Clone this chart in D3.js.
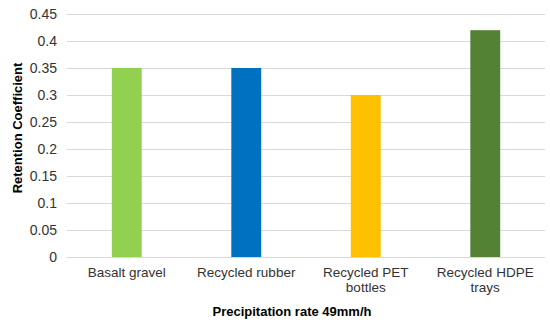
<!DOCTYPE html>
<html>
<head>
<meta charset="utf-8">
<script src="https://cdn.jsdelivr.net/npm/d3@7"></script>
<style>
  body { margin: 0; background: #fff; }
  svg text { font-family: "Liberation Sans", Arial, sans-serif; fill: #000; }
</style>
</head>
<body>
<div id="chart"></div>
<script>
const categories = [['Basalt gravel'], ['Recycled rubber'], ['Recycled PET', 'bottles'], ['Recycled HDPE', 'trays']]
const values = [0.35, 0.35, 0.30, 0.42]
const colors = ['#92D050', '#0070C0', '#FFC000', '#548235']
const yTicks = [0, 0.05, 0.1, 0.15, 0.2, 0.25, 0.3, 0.35, 0.4, 0.45]

const w = 550
const h = 325
const plotLeft = 67, plotRight = 545, plotTop = 14, plotBottom = 257

const svg = d3.select('#chart').append('svg')
    .attr('width', w)
    .attr('height', h)

const xScale = d3.scaleBand()
    .domain(categories.map((d, i) => i))
    .range([plotLeft, plotRight])
    .paddingInner(0.75)
    .paddingOuter(0.375)

const yScale = d3.scaleLinear()
    .domain([0, 0.45])
    .range([plotBottom, plotTop])

// gridlines
svg.append('g')
    .selectAll('line')
    .data(yTicks)
    .enter()
    .append('line')
    .attr('x1', plotLeft)
    .attr('x2', plotRight)
    .attr('y1', d => yScale(d) + 0.5)
    .attr('y2', d => yScale(d) + 0.5)
    .attr('stroke', '#d9d9d9')
    .attr('stroke-width', 1)

// y tick labels
const yAxis = d3.axisLeft(yScale).tickValues(yTicks).tickSize(0).tickPadding(10).tickFormat(d => String(+d.toFixed(2)))
svg.append('g')
    .attr('transform', 'translate(' + plotLeft + ',0)')
    .call(yAxis)
    .call(g => g.select('.domain').remove())
    .selectAll('text')
    .style('font-size', '14px')
    .style('fill', '#333')
    .style('font-family', '"Liberation Sans", Arial, sans-serif')

// bars
svg.selectAll('rect.bar')
    .data(values)
    .enter()
    .append('rect')
    .attr('class', 'bar')
    .attr('x', (d, i) => xScale(i))
    .attr('width', xScale.bandwidth())
    .attr('y', d => yScale(d))
    .attr('height', d => yScale(0) - yScale(d))
    .attr('fill', (d, i) => colors[i])

// x labels
const xl = svg.append('g')
categories.forEach((lines, i) => {
    const t = xl.append('text')
        .attr('x', xScale(i) + xScale.bandwidth() / 2)
        .attr('y', 277)
        .attr('text-anchor', 'middle')
        .style('font-size', '13.5px')
        .style('fill', '#333')
    lines.forEach((s, j) => {
        t.append('tspan')
            .attr('x', xScale(i) + xScale.bandwidth() / 2)
            .attr('dy', j === 0 ? 0 : 15)
            .text(s)
    })
})

// axis titles
svg.append('text')
    .text('Precipitation rate 49mm/h')
    .attr('x', 292)
    .attr('y', 316)
    .attr('text-anchor', 'middle')
    .style('font-size', '13px')
    .style('font-weight', 'bold')

svg.append('text')
    .text('Retention Coefficient')
    .attr('transform', 'translate(22,128) rotate(-90)')
    .attr('text-anchor', 'middle')
    .style('font-size', '13px')
    .style('font-weight', 'bold')
</script>
</body>
</html>
